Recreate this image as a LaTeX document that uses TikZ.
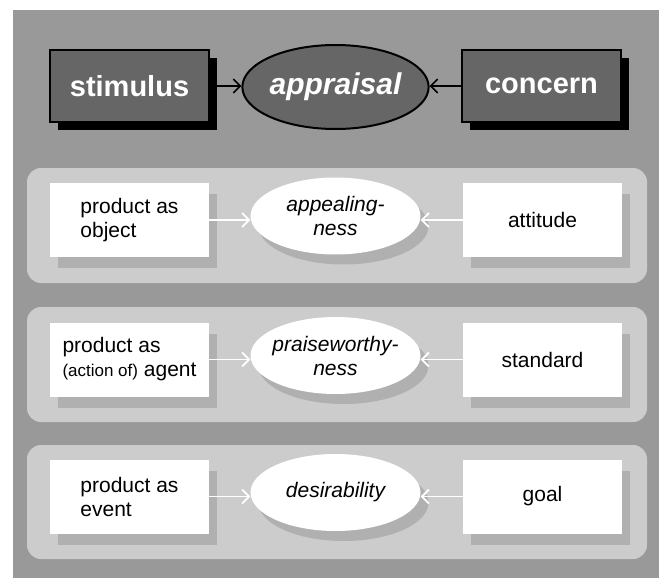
\documentclass[tikz,border=0pt]{standalone}
\usepackage{fontspec}
\setmainfont{Liberation Sans}
\usetikzlibrary{arrows.meta,shapes.geometric,shadows}

\definecolor{bggray}{gray}{0.6}
\definecolor{panelgray}{gray}{0.8}
\definecolor{shadegray}{gray}{0.69}
\definecolor{darkbox}{gray}{0.4}

\begin{document}
\begin{tikzpicture}[x=1pt,y=-1pt,
  % dark boxes of the top row
  topbox/.style={draw=black, line width=2pt, fill=darkbox, text=white,
    minimum width=159pt, minimum height=71pt, inner sep=0pt,
    font=\fontsize{29}{33}\selectfont\bfseries,
    drop shadow={shadow xshift=8pt, shadow yshift=-8pt, fill=black, opacity=1}},
  topoval/.style={ellipse, draw=black, line width=2pt, fill=darkbox, text=white,
    minimum width=171pt, minimum height=84pt, inner sep=0pt,
    font=\fontsize{30}{34}\selectfont\bfseries\itshape},
  toparrow/.style={draw=black, line width=1.5pt, -{Straight Barb[length=7pt,width=14pt]}},
  % white boxes of the lower rows
  rowbox/.style={fill=white, minimum width=159pt, minimum height=74pt, inner sep=0pt,
    align=left, font=\fontsize{21}{24}\selectfont,
    drop shadow={shadow xshift=8pt, shadow yshift=-11pt, fill=shadegray, opacity=1}},
  rowoval/.style={ellipse, fill=white, minimum width=170pt, minimum height=77pt,
    inner xsep=-30pt, inner ysep=0pt,
    align=center, font=\fontsize{21}{24}\selectfont\itshape,
    drop shadow={shadow xshift=8pt, shadow yshift=-10pt, fill=shadegray, opacity=1}},
  rowarrow/.style={draw=white, line width=1.8pt, -{Straight Barb[length=7pt,width=14pt]}},
  panel/.style={fill=panelgray, rounded corners=14pt}
]
\useasboundingbox (0,0) rectangle (659,578);
\fill[bggray] (13,10) rectangle (659,578);

% top row: stimulus -> appraisal <- concern
\node[topbox] (stim) at (129.5,86) {stimulus};
\node[topbox] (conc) at (541.5,86) {concern};
\node[topoval] (appr) at (335.5,87) {appraisal};
\draw[toparrow] (stim.east) -- (stim.east -| appr.west);
\draw[toparrow] (conc.west) -- (conc.west -| appr.east);

% row 1
\fill[panel] (27,168) rectangle (647,283);
\node[rowbox] (obj) at (129.5,220) {product as\\object};
\node[rowbox, align=center] (att) at (542.5,220) {attitude};
\node[rowoval] (appl) at (335.5,216) {appealing-\\ness};
\draw[rowarrow] (obj.east) -- (obj.east -| appl.west);
\draw[rowarrow] (att.west) -- (att.west -| appl.east);

% row 2
\fill[panel] (27,307) rectangle (647,422);
\node[rowbox] (agt) at (129.5,359.5) {product as\\{\fontsize{17}{24}\selectfont(action of)} agent};
\node[rowbox, align=center] (std) at (542.5,359.5) {standard};
\node[rowoval] (prw) at (335.5,355.5) {praiseworthy-\\ness};
\draw[rowarrow] (agt.east) -- (agt.east -| prw.west);
\draw[rowarrow] (std.west) -- (std.west -| prw.east);

% row 3
\fill[panel] (27,445) rectangle (647,559);
\node[rowbox] (evt) at (129.5,496.5) {product as\\event};
\node[rowbox, align=center] (goal) at (542.5,496.5) {goal};
\node[rowoval] (des) at (335.5,492.5) {desirability};
\draw[rowarrow] (evt.east) -- (evt.east -| des.west);
\draw[rowarrow] (goal.west) -- (goal.west -| des.east);
\end{tikzpicture}
\end{document}
